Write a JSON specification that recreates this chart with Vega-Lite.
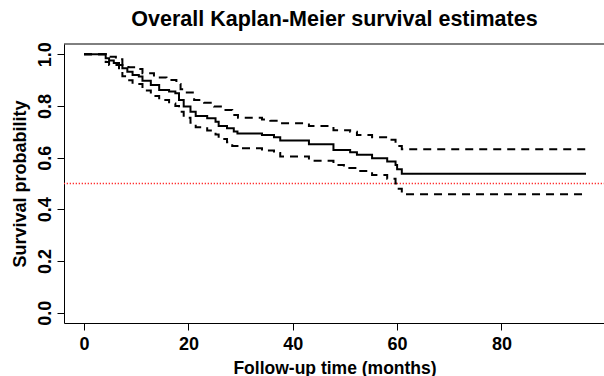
{
  "$schema": "https://vega.github.io/schema/vega-lite/v6.json",
  "width": 541,
  "height": 279,
  "autosize": "none",
  "padding": {"left": 64, "top": 44, "right": 0, "bottom": 53},
  "background": "white",
  "title": {
    "text": "Overall Kaplan-Meier survival estimates",
    "font": "Liberation Sans",
    "fontSize": 21.5,
    "fontWeight": "bold",
    "color": "black",
    "anchor": "middle",
    "offset": 11
  },
  "config": {"view": {"stroke": null}},
  "datasets": {
    "km": [
      {"t": 0, "v": 1.0, "series": "est"},
      {"t": 4.15, "v": 0.985, "series": "est"},
      {"t": 4.8, "v": 0.976, "series": "est"},
      {"t": 5.7, "v": 0.966, "series": "est"},
      {"t": 6.7, "v": 0.959, "series": "est"},
      {"t": 7.35, "v": 0.946, "series": "est"},
      {"t": 8.3, "v": 0.933, "series": "est"},
      {"t": 9.3, "v": 0.92, "series": "est"},
      {"t": 10.5, "v": 0.914, "series": "est"},
      {"t": 11.2, "v": 0.898, "series": "est"},
      {"t": 12.8, "v": 0.881, "series": "est"},
      {"t": 14.4, "v": 0.862, "series": "est"},
      {"t": 16.3, "v": 0.856, "series": "est"},
      {"t": 17.5, "v": 0.849, "series": "est"},
      {"t": 18.2, "v": 0.823, "series": "est"},
      {"t": 19.1, "v": 0.798, "series": "est"},
      {"t": 20.4, "v": 0.778, "series": "est"},
      {"t": 21.4, "v": 0.761, "series": "est"},
      {"t": 23.6, "v": 0.753, "series": "est"},
      {"t": 25.2, "v": 0.739, "series": "est"},
      {"t": 25.8, "v": 0.723, "series": "est"},
      {"t": 27.4, "v": 0.714, "series": "est"},
      {"t": 28.7, "v": 0.701, "series": "est"},
      {"t": 29.4, "v": 0.694, "series": "est"},
      {"t": 34.1, "v": 0.688, "series": "est"},
      {"t": 36.4, "v": 0.679, "series": "est"},
      {"t": 37.6, "v": 0.666, "series": "est"},
      {"t": 43.1, "v": 0.652, "series": "est"},
      {"t": 47.8, "v": 0.63, "series": "est"},
      {"t": 51.0, "v": 0.621, "series": "est"},
      {"t": 52.3, "v": 0.611, "series": "est"},
      {"t": 55.2, "v": 0.598, "series": "est"},
      {"t": 58.1, "v": 0.585, "series": "est"},
      {"t": 59.7, "v": 0.572, "series": "est"},
      {"t": 60.0, "v": 0.555, "series": "est"},
      {"t": 60.9, "v": 0.538, "series": "est"},
      {"t": 96.2, "v": 0.538, "series": "est"},
      {"t": 0, "v": 1.0, "series": "upper"},
      {"t": 4.15, "v": 0.998, "series": "upper"},
      {"t": 5.1, "v": 0.991, "series": "upper"},
      {"t": 6.1, "v": 0.981, "series": "upper"},
      {"t": 7.35, "v": 0.959, "series": "upper"},
      {"t": 8.5, "v": 0.95, "series": "upper"},
      {"t": 9.6, "v": 0.943, "series": "upper"},
      {"t": 11.2, "v": 0.927, "series": "upper"},
      {"t": 13.4, "v": 0.91, "series": "upper"},
      {"t": 15.8, "v": 0.901, "series": "upper"},
      {"t": 17.7, "v": 0.885, "series": "upper"},
      {"t": 18.5, "v": 0.865, "series": "upper"},
      {"t": 19.1, "v": 0.852, "series": "upper"},
      {"t": 21.1, "v": 0.823, "series": "upper"},
      {"t": 23.0, "v": 0.813, "series": "upper"},
      {"t": 24.9, "v": 0.798, "series": "upper"},
      {"t": 26.8, "v": 0.785, "series": "upper"},
      {"t": 28.4, "v": 0.765, "series": "upper"},
      {"t": 29.5, "v": 0.755, "series": "upper"},
      {"t": 34.1, "v": 0.748, "series": "upper"},
      {"t": 35.7, "v": 0.743, "series": "upper"},
      {"t": 37.6, "v": 0.733, "series": "upper"},
      {"t": 43.1, "v": 0.723, "series": "upper"},
      {"t": 47.8, "v": 0.706, "series": "upper"},
      {"t": 51.0, "v": 0.7, "series": "upper"},
      {"t": 52.3, "v": 0.688, "series": "upper"},
      {"t": 55.2, "v": 0.679, "series": "upper"},
      {"t": 58.1, "v": 0.669, "series": "upper"},
      {"t": 59.7, "v": 0.655, "series": "upper"},
      {"t": 60.0, "v": 0.645, "series": "upper"},
      {"t": 60.9, "v": 0.633, "series": "upper"},
      {"t": 96.2, "v": 0.633, "series": "upper"},
      {"t": 0, "v": 1.0, "series": "lower"},
      {"t": 4.15, "v": 0.97, "series": "lower"},
      {"t": 4.8, "v": 0.959, "series": "lower"},
      {"t": 6.7, "v": 0.94, "series": "lower"},
      {"t": 7.35, "v": 0.915, "series": "lower"},
      {"t": 8.3, "v": 0.9, "series": "lower"},
      {"t": 9.3, "v": 0.885, "series": "lower"},
      {"t": 11.2, "v": 0.86, "series": "lower"},
      {"t": 12.8, "v": 0.839, "series": "lower"},
      {"t": 14.4, "v": 0.823, "series": "lower"},
      {"t": 16.3, "v": 0.81, "series": "lower"},
      {"t": 17.5, "v": 0.8, "series": "lower"},
      {"t": 18.2, "v": 0.778, "series": "lower"},
      {"t": 19.1, "v": 0.755, "series": "lower"},
      {"t": 20.4, "v": 0.735, "series": "lower"},
      {"t": 21.4, "v": 0.718, "series": "lower"},
      {"t": 23.6, "v": 0.705, "series": "lower"},
      {"t": 25.2, "v": 0.69, "series": "lower"},
      {"t": 25.8, "v": 0.672, "series": "lower"},
      {"t": 27.4, "v": 0.66, "series": "lower"},
      {"t": 28.4, "v": 0.645, "series": "lower"},
      {"t": 29.4, "v": 0.636, "series": "lower"},
      {"t": 34.1, "v": 0.628, "series": "lower"},
      {"t": 36.4, "v": 0.618, "series": "lower"},
      {"t": 37.6, "v": 0.605, "series": "lower"},
      {"t": 43.1, "v": 0.588, "series": "lower"},
      {"t": 47.8, "v": 0.572, "series": "lower"},
      {"t": 49.8, "v": 0.56, "series": "lower"},
      {"t": 52.3, "v": 0.548, "series": "lower"},
      {"t": 55.2, "v": 0.533, "series": "lower"},
      {"t": 58.1, "v": 0.518, "series": "lower"},
      {"t": 59.7, "v": 0.5, "series": "lower"},
      {"t": 60.0, "v": 0.48, "series": "lower"},
      {"t": 60.9, "v": 0.458, "series": "lower"},
      {"t": 96.2, "v": 0.458, "series": "lower"}
    ],
    "refs": [
      {"level": 0.5, "kind": "median"}
    ],
    "box": [
      {"level": 1.04, "kind": "top"}
    ]
  },
  "layer": [
    {
      "data": {"name": "box"},
      "mark": {"type": "rule", "color": "black", "strokeWidth": 1},
      "encoding": {"y": {"field": "level", "type": "quantitative"}}
    },
    {
      "data": {"name": "refs"},
      "mark": {"type": "rule", "color": "#ff3030", "strokeWidth": 1.3, "strokeDash": [1.3, 1.7], "opacity": 1},
      "encoding": {"y": {"field": "level", "type": "quantitative"}}
    },
    {
      "data": {"name": "km"},
      "mark": {"type": "line", "interpolate": "step-after", "color": "black", "strokeWidth": 2},
      "encoding": {
        "x": {
          "field": "t", "type": "quantitative",
          "scale": {"domain": [-3.84, 99.84], "nice": false, "zero": false},
          "axis": {
            "values": [0, 20, 40, 60, 80],
            "grid": false,
            "domainColor": "black", "domainWidth": 1,
            "tickColor": "black", "tickSize": 7, "tickWidth": 1,
            "labelFont": "Liberation Sans", "labelFontSize": 18, "labelFontWeight": "bold", "labelColor": "black",
            "labelPadding": 5,
            "title": "Follow-up time (months)",
            "titleFont": "Liberation Sans", "titleFontSize": 17.5, "titleFontWeight": "bold", "titleColor": "black",
            "titleBaseline": "middle", "titleY": 45, "titleX": 270.5
          }
        },
        "y": {
          "field": "v", "type": "quantitative",
          "scale": {"domain": [-0.04, 1.04], "nice": false, "zero": false},
          "axis": {
            "values": [0, 0.2, 0.4, 0.6, 0.8, 1.0],
            "format": ".1f",
            "grid": false,
            "domainColor": "black", "domainWidth": 1,
            "tickColor": "black", "tickSize": 7, "tickWidth": 1,
            "labelFont": "Liberation Sans", "labelFontSize": 18, "labelFontWeight": "bold", "labelColor": "black",
            "labelAngle": 270, "labelAlign": "center", "labelBaseline": "bottom", "labelPadding": 3,
            "title": "Survival probability",
            "titleFont": "Liberation Sans", "titleFontSize": 18, "titleFontWeight": "bold", "titleColor": "black",
            "titleAngle": 270, "titleAlign": "center", "titleBaseline": "middle",
            "titleX": -44, "titleY": 139.5
          }
        },
        "detail": {"field": "series"},
        "strokeDash": {
          "field": "series", "type": "nominal",
          "scale": {"domain": ["est", "upper", "lower"], "range": [[1, 0], [8, 6], [8, 6]]},
          "legend": null
        }
      }
    }
  ]
}
